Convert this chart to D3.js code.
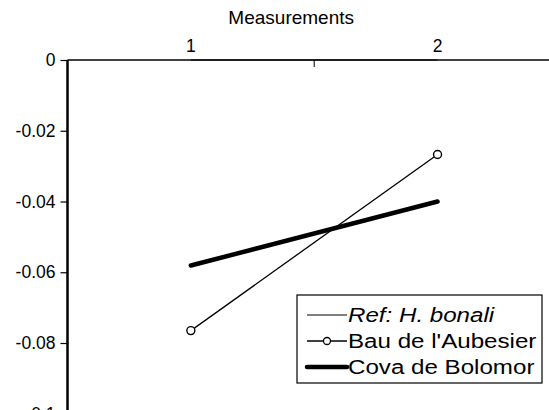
<!DOCTYPE html>
<html>
<head>
<meta charset="utf-8">
<script src="https://cdn.jsdelivr.net/npm/d3@7"></script>
<style>
  html, body { margin: 0; padding: 0; background: #fff; }
  svg { display: block; font-family: "Liberation Sans", Arial, sans-serif; }
</style>
</head>
<body>
<script>
// chart values
const measurements = ["1", "2"];
const refValues = [0, 0];
const bauValues = [-0.0765, -0.0267];
const covaValues = [-0.0581, -0.0400];
const yTicks = [0, -0.02, -0.04, -0.06, -0.08, -0.1];
const seriesNames = ["Ref: H. bonali", "Bau de l'Aubesier", "Cova de Bolomor"];

const width = 549, height = 410;
const marginLeft = 67.5, marginTop = 60;

const svg = d3.select("body").append("svg")
    .attr("width", width)
    .attr("height", height);

const x = d3.scaleBand()
    .domain(measurements)
    .range([marginLeft, marginLeft + 2 * 246.7])
    .padding(0);
const xc = d => x(d) + x.bandwidth() / 2;

const y = d3.scaleLinear()
    .domain([-0.1, 0])
    .range([marginTop + 353.75, marginTop]);

// y axis
const yAxis = d3.axisLeft(y)
    .tickValues(yTicks)
    .tickSize(7)
    .tickPadding(5)
    .tickFormat(d => d === 0 ? "0" : String(+d.toFixed(2)));
const gy = svg.append("g")
    .attr("transform", `translate(${marginLeft},0)`)
    .call(yAxis);
gy.select(".domain").remove();
gy.selectAll(".tick line").attr("stroke", "#000").attr("stroke-width", 1.2);
gy.selectAll("text").attr("font-size", 17.5).attr("fill", "#000")
    .attr("font-family", "Liberation Sans, Arial, sans-serif");
svg.append("line")
    .attr("x1", marginLeft).attr("x2", marginLeft)
    .attr("y1", y(0)).attr("y2", height)
    .attr("stroke", "#000").attr("stroke-width", 2.5);

// x axis on top (at y = 0)
const xAxis = d3.axisTop(x)
    .tickSize(0)
    .tickPadding(8);
const gx = svg.append("g")
    .attr("transform", `translate(0,${y(0)})`)
    .call(xAxis);
gx.select(".domain").remove();
gx.selectAll("text").attr("font-size", 17.5).attr("fill", "#000")
    .attr("font-family", "Liberation Sans, Arial, sans-serif");
svg.append("line")
    .attr("x1", marginLeft).attr("x2", width)
    .attr("y1", y(0)).attr("y2", y(0))
    .attr("stroke", "#000").attr("stroke-width", 1.6);
// category boundary tick
measurements.slice(1).forEach(m => {
  svg.append("line")
      .attr("x1", x(m)).attr("x2", x(m))
      .attr("y1", y(0)).attr("y2", y(0) + 7)
      .attr("stroke", "#000").attr("stroke-width", 1);
});

svg.append("text")
    .attr("x", x("2") - 23)
    .attr("y", 24)
    .attr("text-anchor", "middle")
    .attr("font-size", 19)
    .text("Measurements");

// series
const line = d3.line().x((d, i) => xc(measurements[i])).y(d => y(d));

svg.append("path").datum(refValues)
    .attr("d", line).attr("fill", "none")
    .attr("stroke", "#000").attr("stroke-width", 1);

svg.append("path").datum(covaValues)
    .attr("d", line).attr("fill", "none")
    .attr("stroke", "#000").attr("stroke-width", 4.5)
    .attr("stroke-linecap", "round");

svg.append("path").datum(bauValues)
    .attr("d", line).attr("fill", "none")
    .attr("stroke", "#000").attr("stroke-width", 1.3);

svg.selectAll("circle.bau")
  .data(bauValues)
  .enter().append("circle")
    .attr("class", "bau")
    .attr("cx", (d, i) => xc(measurements[i]))
    .attr("cy", d => y(d))
    .attr("r", 4)
    .attr("fill", "#fff")
    .attr("stroke", "#000")
    .attr("stroke-width", 1.4);

// legend
const lg = svg.append("g").attr("transform", "translate(297,295)");
lg.append("rect")
    .attr("width", 245).attr("height", 88)
    .attr("fill", "#fff").attr("stroke", "#000").attr("stroke-width", 1.2);

const rowY = [20, 46, 72];
const widths = [1, 1.3, 4.5];
seriesNames.forEach((name, i) => {
  const row = lg.append("g").attr("transform", `translate(0,${rowY[i]})`);
  row.append("line")
      .attr("x1", 10).attr("x2", 50)
      .attr("stroke", "#000").attr("stroke-width", widths[i])
      .attr("stroke-linecap", i === 2 ? "round" : "butt");
  if (i === 1) {
    row.append("circle").attr("cx", 30).attr("r", 3.5)
        .attr("fill", "#fff").attr("stroke", "#000").attr("stroke-width", 1.3);
  }
  const t = row.append("text")
      .attr("transform", "translate(51,0) scale(1.15,1)")
      .attr("dy", "0.35em")
      .attr("font-size", 21);
  if (i === 0) {
    t.attr("font-style", "italic").text(name);
  } else {
    t.text(name);
  }
});
</script>
</body>
</html>
